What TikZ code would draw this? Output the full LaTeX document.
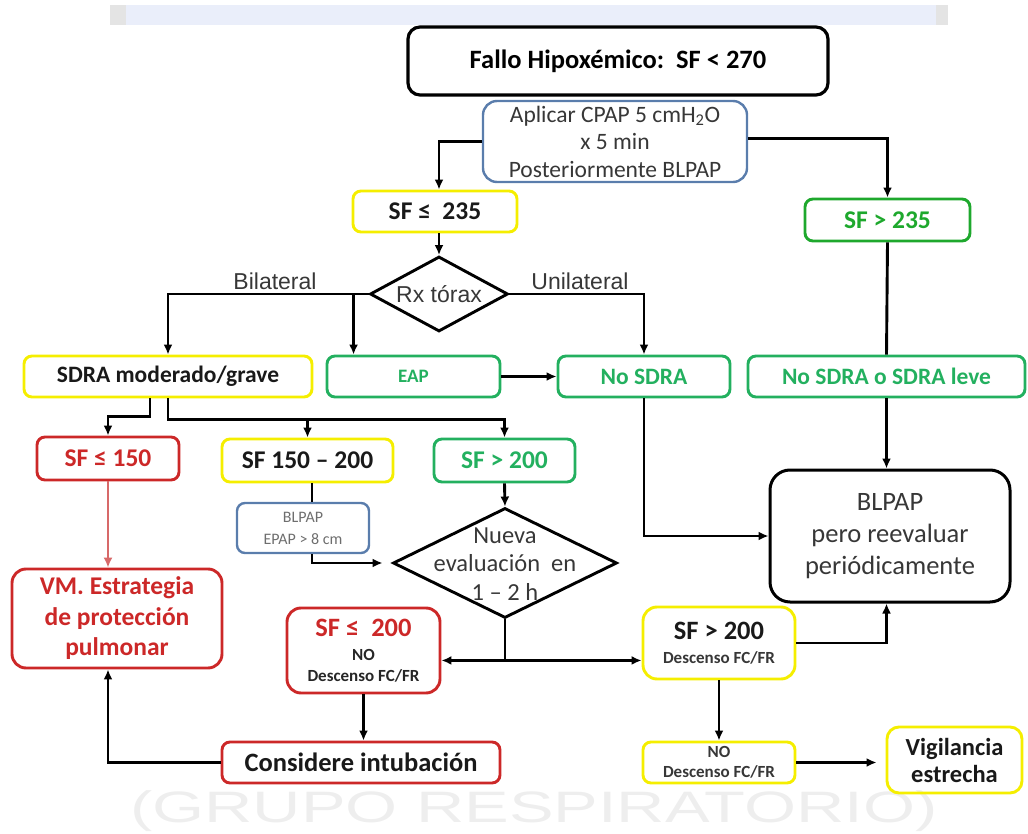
\documentclass[tikz,border=0pt]{standalone}
\usepackage{fontspec}
\setmainfont{Carlito}
\newfontfamily\arialf{Liberation Sans}
\usetikzlibrary{arrows.meta,calc,shapes.geometric}
\newcommand\myfs[2]{\fontsize{#1}{#2}\selectfont}
\definecolor{yel}{RGB}{245,238,0}
\definecolor{grnA}{RGB}{30,168,45}
\definecolor{grnB}{RGB}{35,176,95}
\definecolor{redc}{RGB}{204,40,40}
\definecolor{blu}{RGB}{90,125,172}
\definecolor{lred}{RGB}{215,105,105}
\definecolor{txtg}{RGB}{55,55,55}
\definecolor{txtl}{RGB}{110,110,110}
\definecolor{wmc}{RGB}{238,238,238}
\definecolor{band}{RGB}{234,238,250}
\definecolor{bandg}{RGB}{228,228,228}
\begin{document}
\begin{tikzpicture}[x=1pt,y=-1pt,
  box/.style={rectangle, rounded corners=8pt, line width=2.9pt, inner sep=0pt, align=center},
  ybox/.style={box, draw=yel, text=black!90},
  gbox/.style={box, draw=grnB, text=grnB},
  rbox/.style={box, draw=redc, text=redc},
  kbox/.style={box, draw=black, line width=3pt},
  bbox/.style={box, draw=blu, line width=2.4pt, text=txtg},
  diam/.style={diamond, draw=black, line width=2.9pt, inner sep=0pt},
  conn/.style={line width=2.9pt},
  arr/.style={conn, -{Latex[length=10pt,width=9pt]}},
  lbl/.style={font=\arialf\myfs{23}{27}, text=txtg}
]
\useasboundingbox (0,0) rectangle (1028,834);
\clip (0,0) rectangle (1028,834);
% background decorations
\fill[band] (110,5) rectangle (948,25);
\fill[bandg] (110,5) rectangle (126,25);
\fill[bandg] (936,5) rectangle (948,25);
\node[text=wmc, font=\arialf\myfs{44}{44}, anchor=base, xscale=1.52, transform shape] (wm) at (534,822) {(GRUPO RESPIRATORIO)};

% nodes
\node[kbox, rounded corners=12pt, line width=3.2pt, minimum width=420, minimum height=68, font=\bfseries\myfs{26.5}{31}] (fallo) at (618,61) {Fallo Hipoxémico:\ \ SF < 270};
\node[bbox, rounded corners=14pt, minimum width=264, minimum height=81, font=\myfs{23.5}{27.5}] (cpap) at (615,141.5) {Aplicar CPAP 5 cmH\textsubscript{2}O\\x 5 min\\Posteriormente BLPAP};
\node[ybox, minimum width=164, minimum height=41, font=\bfseries\myfs{25.5}{28}] (sf235) at (435,211.5) {SF ≤\ \ 235};
\node[box, draw=grnA, text=grnA, minimum width=165, minimum height=42, font=\bfseries\myfs{25.5}{28}] (sf235g) at (887.5,220) {SF > 235};

\node[diam, minimum width=138, minimum height=75] (rx) at (439,294) {};
\node[font=\arialf\myfs{23}{27}, text=txtg] (rxt) at (rx.center) {Rx tórax};

\node[ybox, minimum width=288, minimum height=41, font=\bfseries\myfs{23.5}{27}] (sdra) at (168,376.5) {SDRA moderado/grave};
\node[gbox, minimum width=173, minimum height=41, font=\bfseries\myfs{19}{22}] (eap) at (413.5,376.5) {EAP};
\node[gbox, minimum width=172, minimum height=41, font=\bfseries\myfs{23.5}{27}] (nosdra) at (644,376.5) {No SDRA};
\node[gbox, minimum width=277, minimum height=41, font=\bfseries\myfs{23.5}{27}] (leve) at (886.5,376.5) {No SDRA o SDRA leve};

\node[rbox, minimum width=142, minimum height=43, font=\bfseries\myfs{25.5}{28}] (sf150) at (108,458.5) {SF ≤ 150};
\node[ybox, minimum width=171, minimum height=43, font=\bfseries\myfs{25.5}{28}] (sf150200) at (307.5,460.5) {SF 150 – 200};
\node[gbox, minimum width=141, minimum height=43, font=\bfseries\myfs{25.5}{28}] (sf200g) at (504.5,460.5) {SF > 200};

\node[bbox, minimum width=132, minimum height=50, text=txtl, font=\myfs{16}{22}] (epap) at (303,528) {BLPAP\\EPAP > 8 cm};

\node[diam, minimum width=224, minimum height=110] (nueva) at (505,563) {};
\node[font=\myfs{24.5}{28.5}, text=txtg, align=center] (nuevat) at (505,564) {Nueva\\evaluación\ \ en\\1 – 2 h};

\node[kbox, rounded corners=20pt, minimum width=240, minimum height=132, text=txtg, font=\myfs{26.5}{32}] (blpap) at (890,536) {BLPAP\\pero reevaluar\\periódicamente};

\node[rbox, rounded corners=14pt, minimum width=210, minimum height=99, font=\bfseries\myfs{25.5}{30.5}] (vm) at (117,618.5) {VM. Estrategia\\de protección\\pulmonar};

\node[rbox, rounded corners=14pt, minimum width=153, minimum height=85, font=\bfseries\myfs{17}{21}] (sf200r) at (363.5,650.5) {{\myfs{26.5}{30}SF ≤\ \ 200}\\[3pt]\textcolor{black!85}{NO}\\\textcolor{black!85}{Descenso FC/FR}};

\node[ybox, rounded corners=14pt, minimum width=152, minimum height=72, font=\bfseries\myfs{17}{22}] (sf200y) at (719,643) {{\myfs{26.5}{30}SF > 200}\\[2pt]{\color{txtg}Descenso FC/FR}};

\node[rbox, text=black!90, minimum width=278, minimum height=41, font=\bfseries\myfs{26.5}{30}] (consid) at (361,762.5) {Considere intubación};
\node[ybox, minimum width=152, minimum height=41, text=txtg, font=\bfseries\myfs{17}{20}] (noy) at (719,762.5) {NO\\Descenso FC/FR};
\node[ybox, rounded corners=12pt, minimum width=135, minimum height=66, font=\bfseries\myfs{24.5}{27}] (vig) at (954.5,760) {Vigilancia\\estrecha};

% labels
\node[lbl] (bil) at (275,281) {Bilateral};
\node[lbl] (unil) at (580,281) {Unilateral};

% helper coordinates
\coordinate (eapin) at ($(eap.north west)+(28,0)$);
\coordinate (c312) at ($(sf150200.south)+(4.5,0)$);
\coordinate (j1) at ($(sdra.south)+(0,21)$);

% connectors
\draw[arr] (cpap.west) -| (sf235.north -| rx.north);
\draw[arr] ($(cpap.east)+(0,-3)$) -| (sf235g.north);
\draw[arr] (sf235.south -| rx.north) -- (rx.north);
\draw[arr] (rx.west) -| (sdra.north);
\draw[arr] (rx.west -| eapin) -- (eapin);
\draw[arr] (rx.east) -| (nosdra.north);
\draw[arr] (eap.east) -- (nosdra.west);
\draw[conn] (sf235g.south) -- (leve.north);
\draw[arr] (leve.south) -- (leve.south |- blpap.north);
\draw[arr] (nosdra.south) |- (blpap.west);

\draw[arr] ($(sdra.south)+(-18,0)$) -- ++(0,18) -| (sf150.north);
\draw[arr] (sdra.south) -- (j1) -| (sf200g.north);
\draw[arr] (j1 -| sf150200.north) -- (sf150200.north);

\draw[arr, lred, line width=1.8pt] (sf150.south) -- (sf150.south |- vm.north);

\draw[conn] (c312) -- (c312 |- epap.north);
\draw[arr, shorten >=9pt] (c312 |- epap.south) |- (nueva.west);
\draw[arr] (sf200g.south) -- (nueva.north);

\draw[conn] (nueva.south) -- ++(0,41) coordinate (j2);
\draw[arr] (j2) -- (j2 -| sf200r.east);
\draw[arr] (j2) -- (j2 -| sf200y.west);

\draw[arr] (sf200r.south) -- (sf200r.south |- consid.north);
\draw[arr] (consid.west) -| (vm.south -| sf150.south);

\draw[arr] (sf200y.east) -| (blpap.south -| leve.south);
\draw[arr] (sf200y.south) -- (noy.north);
\draw[arr, shorten >=9pt] (noy.east) -- (noy.east -| vig.west);
\end{tikzpicture}
\end{document}
